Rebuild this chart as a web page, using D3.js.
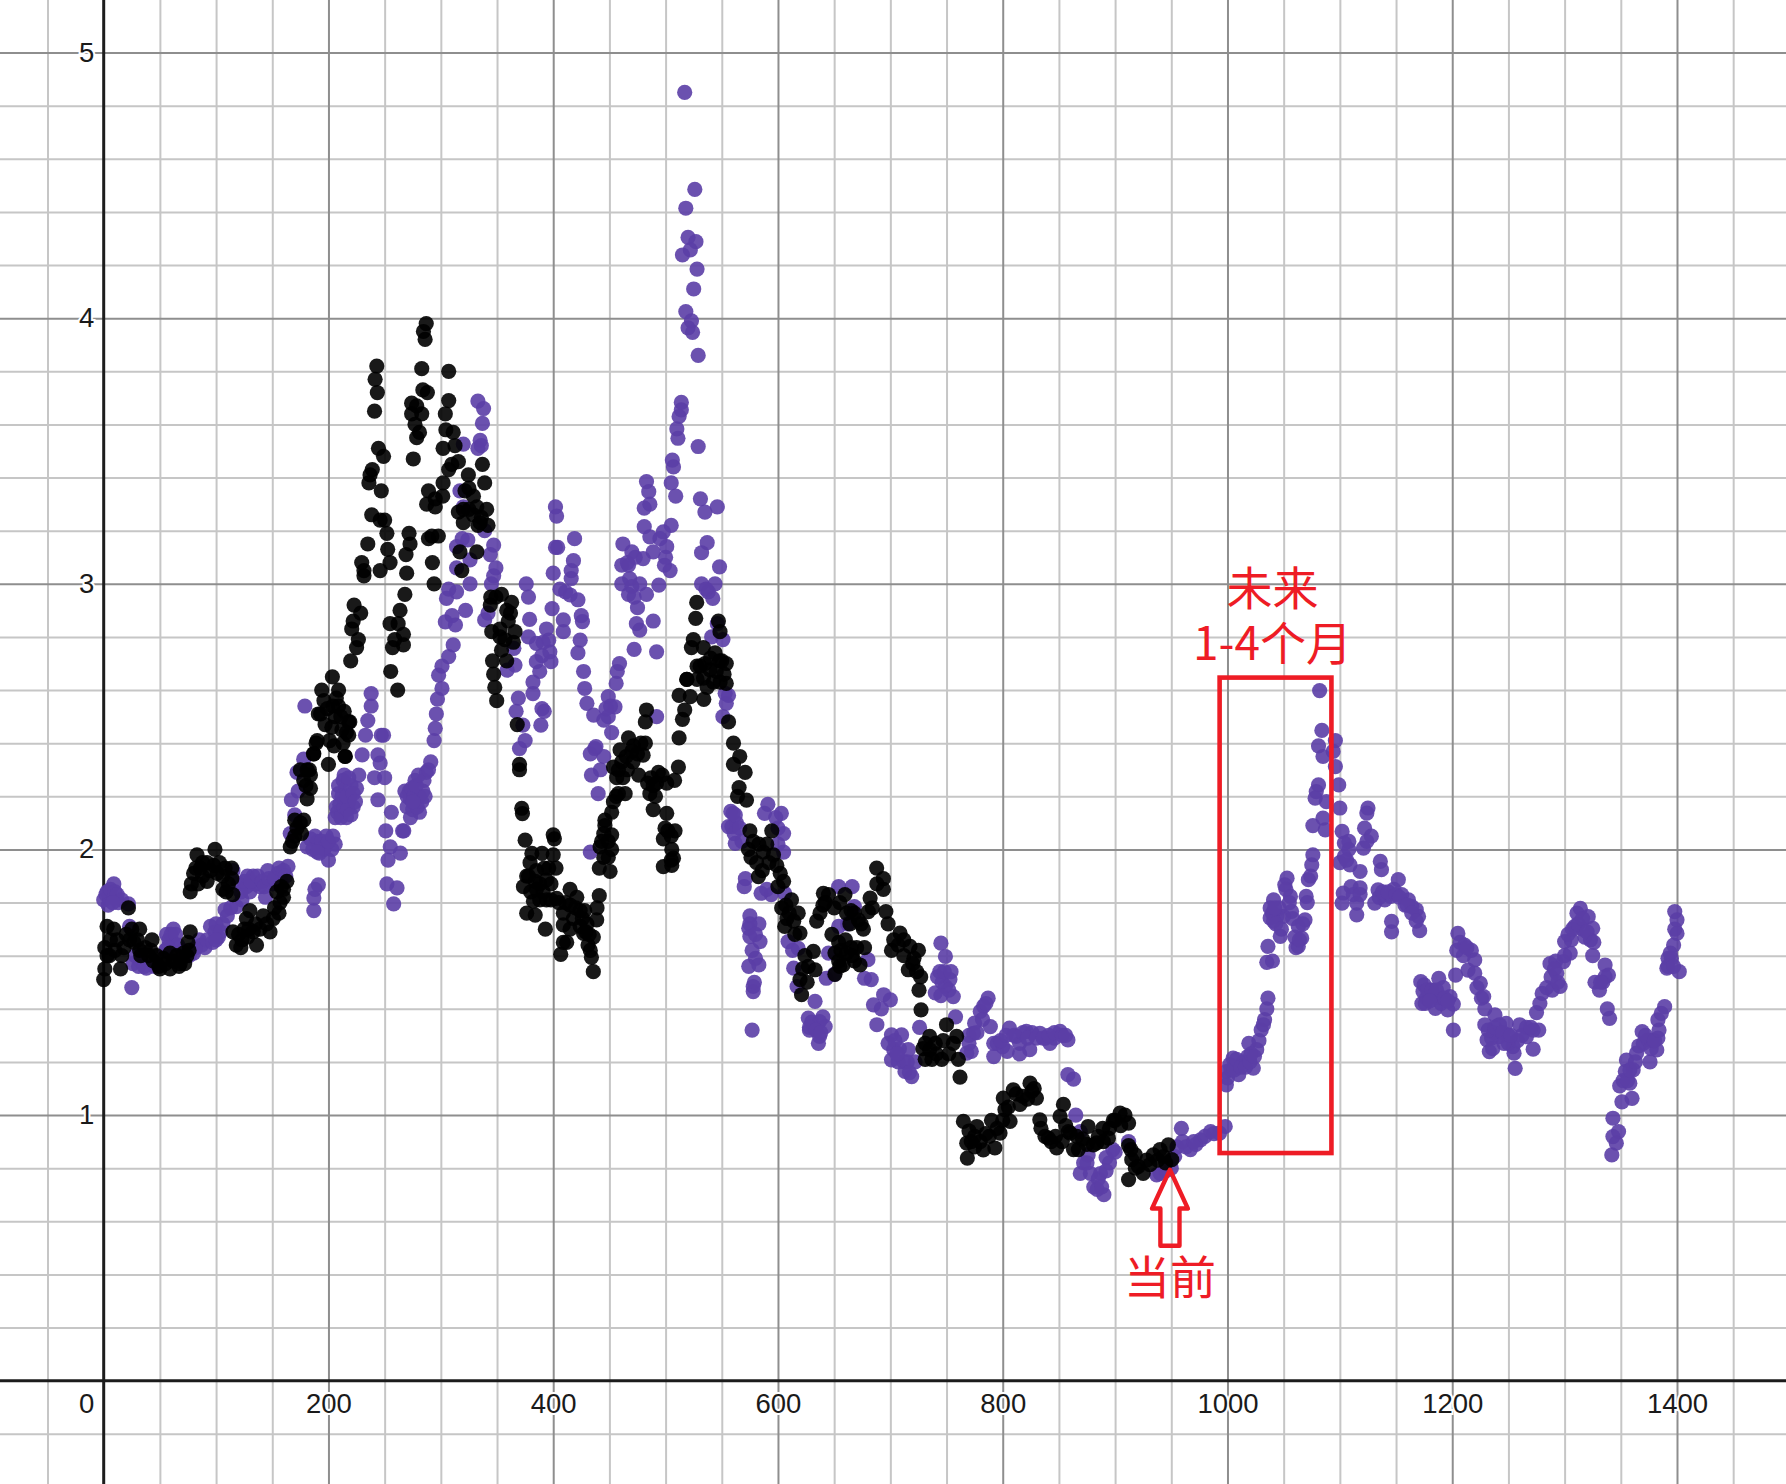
<!DOCTYPE html>
<html>
<head>
<meta charset="utf-8">
<script src="https://cdn.jsdelivr.net/npm/d3@7"></script>
<style>
  html, body { margin: 0; padding: 0; background: #fff; }
  svg { display: block; }
  .tick-label { font-family: "Liberation Sans", Arial, sans-serif; font-size: 27.5px; fill: #1a1a1a; }
  .note { font-family: "Noto Sans CJK SC", sans-serif; font-size: 46px; fill: #ee1c25; text-anchor: middle; }
</style>
</head>
<body>
<svg id="chart" width="1786" height="1484"></svg>
<script>
// ── values ───────────────────────────────────────────────────────────────────
const xLabels = [200, 400, 600, 800, 1000, 1200, 1400];
const yLabels = [1, 2, 3, 4, 5];

// [x, y] pairs, purple series
const purpleStart = [[9,1.87],[0,1.81],[6,1.82],[13,1.80],[22,1.795],[3,1.84],[25,1.48],[23,1.71],[26,1.57],[38,1.553],[31,1.56],[45,1.56],
  [62,1.70],[58,1.66],[62,1.647],[55,1.62],[80,1.61],[90,1.63],[95,1.71],[102,1.67],[106,1.72],[99,1.69],[70,1.62],[85,1.66],
  [108,1.773],[118,1.785],[115,1.92],[127,1.86],[133,1.90],[139,1.86],[146,1.92],[144,1.82],[155,1.91],[164,1.936],[123,1.81],[130,1.84],[120,1.87],[150,1.87],[158,1.88],[135,1.87],
  [2,1.83],[6,1.85],[10,1.84],[12,1.83],[16,1.81],[4,1.79],[8,1.8],[28,1.6],[33,1.58],[36,1.56],
  [56,1.68],[60,1.68],[64,1.68],[66,1.64],[57,1.63],[76,1.6],[82,1.63],[87,1.64],[92,1.66],[97,1.65],[100,1.72],[104,1.69],[100,1.66],
  [110,1.75],[113,1.78],[122,1.84],[125,1.88],[128,1.9],[131,1.88],[137,1.9],[141,1.88],[143,1.86],[147,1.89],[152,1.89],[156,1.93],[160,1.92],[162,1.9]];
const purpleRise = [[181,2.01],[198,2.05],[206,2.02],[200,1.96],[192,1.986],[184,2.04],[190,2.03],[203,2.0],[196,2.0],[191,1.867],[187,1.817],[187,1.77],[188,1.85],
  [186,2.0],[188,2.05],[194,2.03],[197,2.01],[200,2.03],[204,2.05],[190,1.99],
  [166,2.06],[170,2.13],[167,2.187],[173,2.22],[172,2.29],[178,2.34],[179,2.54],
  [206,2.12],[216,2.12],[210,2.17],[222,2.16],[213,2.26],[227,2.28],[225,2.23],[209,2.21],[219,2.2],[212,2.14],[218,2.18],[207,2.16],[215,2.23],
  [208,2.14],[211,2.12],[214,2.16],[217,2.15],[220,2.13],[209,2.24],[212,2.2],[216,2.2],[220,2.24],[222,2.21],[214,2.28],[218,2.27],[224,2.18],
  [233,2.43],[247,2.43],[249,2.43],[230,2.356],[244,2.356],[246,2.325],[241,2.27],[250,2.27],[244,2.187],[256,2.14],[251,2.07],[255,2.01],[264,1.986],[253,1.96],[252,1.87],[261,1.855],[258,1.795],[267,2.07],
  [238,2.587],[238,2.54],[235,2.485],
  [287,2.29],[277,2.26],[268,2.22],[281,2.2],[270,2.16],[281,2.14],[273,2.12],[284,2.22],[273,2.19],[278,2.19],[275,2.15],[266,2.07],[272,2.22],[285,2.26],
  [270,2.2],[274,2.23],[276,2.2],[278,2.24],[279,2.16],[283,2.18],[286,2.2],[275,2.18],[280,2.28],[289,2.3],
  [291,2.33],[294,2.41],[295,2.456],[296,2.51],[297,2.566],[301,2.606],[298,2.656],[301,2.69],[307,2.726],[311,2.77]];
const purplePeak = [[333,3.688],[338,3.66],[337,3.604],[335,3.54],[333,3.51],[320,3.526],[336,3.52],[317,3.35],[320,3.29],[319,3.17],[324,3.165],[314,3.14],[314,3.06],[326,3.09],[326,3.0],[339,3.2],
  [307,2.98],[314,2.97],[305,2.945],[322,2.9],[310,2.88],[304,2.857],[313,2.845],
  [347,3.146],[344,3.11],[349,3.06],[347,3.03],[345,3.0],[342,2.89],[339,2.864],[365,2.757],[366,2.694],[359,2.675],
  [376,3.0],[378,2.95],[379,2.866],[378,2.8],[385,2.776],[402,3.29],[403,3.255],[402,3.137],[404,3.137],[419,3.17],
  [400,3.04],[399,2.907],[409,2.864],[409,2.82],[418,3.087],[416,3.05],[416,3.02],[406,2.98],[415,2.958],[422,2.94],[425,2.88],[426,2.858],[411,2.97],
  [394,2.83],[396,2.788],[397,2.744],[398,2.707],[385,2.707],[388,2.67],[382,2.63],[382,2.587],[390,2.73],[391,2.78],
  [424,2.788],[422,2.74],[427,2.67],[369,2.57],[367,2.52],[373,2.468],[375,2.41],[370,2.38],[390,2.53],[389,2.468],[392,2.52],
  [428,2.606],[430,2.55],[436,2.506],[449,2.575],[455,2.537],[449,2.5],[445,2.487],[452,2.44],[459,2.70],[457,2.67],[456,2.625],[451,2.54],[447,2.53],
  [437,2.38],[445,2.35],[434,2.28],[440,2.21],[433,2.36],[442,2.3],[438,2.387],[433,1.99],
  [472,2.753],[492,2.744],[489,2.86],[474,2.85],[477,2.826],[475,2.91],[461,3.0],[467,2.96],[470,2.99],[477,3.0],[483,2.96],[472,2.95],[468,3.02],
  [462,3.15],[461,3.07],[467,3.07],[470,3.12],[480,3.095],[481,3.215],[486,3.177],[489,3.12],[483,3.385],[485,3.347],[486,3.3],[481,3.285],[466,3.08],[473,3.1],
  [505,3.22],[498,3.196],[495,3.17],[501,3.14],[499,3.07],[504,3.05],[494,2.995],[500,3.1],[506,3.466],[507,3.44],[505,3.38],[509,3.33],
  [514,3.683],[514,3.655],[512,3.63],[510,3.583],[511,3.548],[529,3.517],[531,3.32],[535,3.27],[546,3.29],[537,3.155],[532,3.117],[548,3.064],
  [517,4.85],[526,4.485],[518,4.414],[520,4.304],[527,4.288],[522,4.257],[515,4.238],[528,4.185],[525,4.11],[518,4.025],[523,3.99],[520,3.964],[524,3.947],[529,3.86],
  [532,3.0],[544,3.0],[538,2.97],[542,2.945],[536,2.98],[541,2.80],[551,2.79],[553,2.588],[554,2.55],[551,2.5],[546,2.85],[492,2.5],[556,2.58]];
const purpleFall = [[560,2.136],[563,2.1],[556,2.086],[562,2.023],[558,2.143],[559,2.086],[561,2.06],[591,2.17],[603,2.136],[588,2.136],[605,2.06],[605,1.99],[600,2.02],
  [562,2.13],[566,2.08],[568,2.03],[598,2.12],[600,2.08],
  [571,1.89],[570,1.86],[585,1.835],[594,1.83],[606,1.835],[590,1.85],[575,1.75],[583,1.72],[574,1.703],[575,1.672],[584,1.653],[609,1.653],[580,1.59],[574,1.56],[583,1.565],[578,1.484],[578,1.465],[577,1.32],
  [575,1.72],[577,1.62],[580,1.68],[579,1.5],
  [614,1.553],[618,1.628],[617,1.484],[633,1.428],[613,1.62],[627,1.365],[637,1.352],[642,1.333],[628,1.32],[637,1.296],[636,1.27],[632,1.33],[630,1.35],[628,1.33],[634,1.32],[640,1.37],[638,1.31],
  [654,1.86],[666,1.86],[668,1.785],[654,1.71],[645,1.61],[643,1.515],[680,1.585],[677,1.515],[683,1.51],[662,1.72],[650,1.53],
  [694,1.453],[685,1.415],[700,1.434],[688,1.34],[692,1.4],[701,1.302],[701,1.208],[710,1.302],[703,1.246],[713,1.164],[719,1.145],[716,1.246],[726,1.33],[708,1.25],[712,1.2],[722,1.2],
  [704,1.28],[707,1.2],[698,1.27],[715,1.2],[717,1.16],[706,1.23],
  [745,1.647],[749,1.597],[744,1.54],[753,1.51],[740,1.46],[756,1.446],[749,1.484],[746,1.5],[758,1.37],[768,1.233],[774,1.308],[787,1.44],[780,1.39],[789,1.333],[783,1.41],[775,1.346],[770,1.27],
  [742,1.52],[748,1.54],[752,1.47],[745,1.45],[754,1.54],[770,1.3],[772,1.24],[777,1.31],[782,1.36],[785,1.42],
  [792,1.22],[795,1.27],[806,1.327],[800,1.258],[821,1.315],[824,1.246],[833,1.308],[842,1.27],[851,1.315],[858,1.283],[812,1.296],[846,1.29],[815,1.27],[804,1.24],[838,1.29],[826,1.31],
  [792,1.27],[798,1.28],[803,1.3],[810,1.3],[818,1.31],[822,1.29],[830,1.29],[836,1.29],[841,1.3],[846,1.31],[853,1.3],[856,1.3],[815,1.23],
  [858,1.152],[863,1.135],[865,1.0],[869,0.938],[872,0.82],[869,0.78],[881,0.73],[890,0.70],[887,0.78],[895,0.82],[898,0.87],[912,0.9],[875,0.82],[885,0.76],[892,0.84],
  [876,0.85],[878,0.78],[884,0.72],[888,0.73],[892,0.79],[900,0.86]];
const purpleFuture = [[937,0.775],[959,0.95],[953,0.844],[967,0.87],[976,0.907],[985,0.938],[993,0.932],[998,0.957],[945,0.79],
  [955,0.88],[960,0.9],[963,0.88],[970,0.9],[972,0.89],[980,0.92],[988,0.93],[940,0.78],[950,0.8],
  [999,1.114],[999,1.164],[1005,1.214],[1010,1.152],[1019,1.27],[1023,1.177],[1026,1.246],[1030,1.321],[1033,1.359],[1035,1.40],[1036,1.44],[1014,1.2],[1002,1.19],[1018,1.22],
  [1000,1.14],[1003,1.17],[1006,1.17],[1008,1.21],[1012,1.18],[1016,1.18],[1020,1.2],[1021,1.23],[1024,1.22],[1028,1.28],[1032,1.34],
  [1082,2.598],[1084,2.448],[1096,2.41],[1081,2.39],[1094,2.369],[1085,2.35],[1096,2.312],[1081,2.243],[1099,2.243],[1079,2.218],[1078,2.193],[1088,2.18],[1100,2.156],[1085,2.118],[1076,2.09],[1087,2.074],[1102,2.068],
  [1104,2.024],[1125,2.156],[1124,2.137],[1122,2.08],[1128,2.05],[1121,2.005],[1104,1.974],[1100,1.95],[1109,1.942],[1118,1.917],[1136,1.955],[1137,1.924],[1108,2.0],[1124,2.03],[1106,1.96],[1108,2.03],
  [1110,1.86],[1103,1.836],[1118,1.855],[1102,1.798],[1115,1.798],[1115,1.754],[1131,1.798],[1134,1.848],[1152,1.886],[1145,1.823],[1161,1.81],[1168,1.773],[1170,1.748],[1146,1.729],[1146,1.69],[1171,1.694],[1155,1.83],[1140,1.81],[1148,1.85],[1164,1.785],[1158,1.79],
  [1112,1.83],[1118,1.83],[1135,1.82],[1138,1.84],[1143,1.84],[1150,1.83],[1153,1.82],[1160,1.79],[1164,1.76],[1168,1.73],
  [1076,1.98],[1075,1.942],[1072,1.886],[1070,1.823],[1053,1.892],[1051,1.867],[1056,1.823],[1041,1.81],[1038,1.78],[1038,1.742],[1050,1.748],[1057,1.767],[1047,1.673],[1069,1.735],[1063,1.71],[1066,1.666],[1063,1.635],[1036,1.635],[1040,1.58],[1035,1.575],[1044,1.75],[1061,1.63],
  [1040,1.76],[1041,1.73],[1043,1.72],[1046,1.78],[1052,1.85],[1055,1.8],[1058,1.74],[1042,1.78],[1048,1.7],[1060,1.67],[1064,1.66],[1067,1.72],[1071,1.8],[1074,1.9],
  [1205,1.684],[1211,1.64],[1217,1.62],[1204,1.62],[1210,1.6],[1220,1.584],[1220,1.534],[1214,1.546],[1225,1.496],[1228,1.446],[1229,1.4],[1207,1.65],[1213,1.63],[1222,1.48],[1226,1.44],
  [1172,1.502],[1188,1.515],[1174,1.465],[1183,1.446],[1173,1.42],[1185,1.402],[1198,1.446],[1201,1.418],[1196,1.396],[1203,1.527],[1201,1.32],[1180,1.47],[1190,1.44],[1177,1.44],[1192,1.48],
  [1175,1.49],[1178,1.47],[1182,1.47],[1186,1.47],[1190,1.42],[1193,1.44],[1196,1.43],[1176,1.42],[1180,1.43],
  [1238,1.377],[1248,1.345],[1229,1.34],[1231,1.283],[1233,1.239],[1242,1.295],[1254,1.258],[1255,1.233],[1256,1.176],[1260,1.34],[1272,1.32],[1277,1.32],[1272,1.248],[1266,1.295],[1275,1.386],[1280,1.458],[1289,1.47],[1237,1.31],[1250,1.3],[1235,1.29],
  [1232,1.32],[1238,1.33],[1242,1.34],[1245,1.31],[1250,1.27],[1258,1.28],[1262,1.3],[1266,1.33],[1270,1.33],[1246,1.27],[1252,1.3],[1236,1.25],[1278,1.42],[1284,1.48],
  [1287,1.57],[1293,1.534],[1296,1.484],[1299,1.578],[1300,1.653],[1305,1.61],[1309,1.71],[1311,1.76],[1314,1.778],[1321,1.747],[1323,1.66],[1325,1.703],[1325,1.6],[1316,1.7],[1306,1.66],[1292,1.58],
  [1288,1.52],[1291,1.55],[1294,1.5],[1300,1.6],[1303,1.68],[1307,1.7],[1312,1.72],[1316,1.74],[1318,1.67],[1320,1.69],[1326,1.65],
  [1336,1.565],[1339,1.527],[1327,1.5],[1331,1.47],[1338,1.4],[1340,1.364],[1343,0.988],[1348,0.938],[1343,0.919],[1346,0.894],[1342,0.85],[1334,1.5],[1336,1.52],[1332,1.5],
  [1351,1.05],[1360,1.063],[1349,1.11],[1358,1.12],[1354,1.164],[1361,1.17],[1355,1.207],[1364,1.233],[1369,1.314],[1374,1.283],[1376,1.2],[1382,1.245],[1383,1.29],[1383,1.358],[1386,1.383],[1389,1.408],[1378,1.28],[1370,1.27],
  [1352,1.13],[1356,1.13],[1358,1.17],[1363,1.2],[1366,1.26],[1372,1.3],[1377,1.25],[1380,1.28],[1384,1.32],
  [1398,1.766],[1400,1.735],[1400,1.684],[1397,1.64],[1392,1.59],[1391,1.553],[1402,1.54],[1395,1.59],[1394,1.61],[1392,1.56],[1397,1.56],[1398,1.7]];

// [x, y] pairs, black series
const blackStart = [[0,1.51],[1,1.55],[3,1.60],[1,1.63],[3,1.71],[9,1.70],[6,1.66],[15,1.55],[16,1.60],[18,1.63],[25,1.70],[32,1.70],[23,1.66],[32,1.62],[43,1.66],[40,1.60],[49,1.56],[55,1.57],[59,1.61],[68,1.57],[71,1.61],[75,1.65],[77,1.69],[22,1.78],[33,1.60],[44,1.58],[50,1.55],[59,1.55],[67,1.56],[72,1.57],
  [10,1.62],[12,1.66],[5,1.6],[20,1.68],[27,1.65],[30,1.66],[37,1.63],[42,1.62],[47,1.6],[53,1.59],[62,1.58],[65,1.6],[74,1.6],[76,1.62],
  [83,1.98],[99,2.00],[92,1.95],[80,1.91],[78,1.87],[77,1.84],[92,1.88],[101,1.91],[106,1.90],[114,1.93],[114,1.89],[109,1.84],[115,1.83],[86,1.93],[98,1.94],[106,1.85],
  [82,1.93],[88,1.9],[95,1.92],[103,1.95],[108,1.93],[111,1.87],[84,1.87],[88,1.95],
  [115,1.69],[118,1.64],[129,1.70],[136,1.64],[130,1.77],[127,1.74],[142,1.75],[148,1.69],[151,1.74],[157,1.80],[154,1.84],[163,1.88],[160,1.82],[123,1.66],[139,1.70],[160,1.85],
  [120,1.68],[125,1.7],[128,1.67],[133,1.69],[135,1.72],[145,1.72],[152,1.78],[156,1.76],[158,1.86],[122,1.63],
  [166,2.01],[170,2.05],[178,2.11],[170,2.11],[181,2.19],[184,2.23],[181,2.30],[187,2.36],[190,2.41],[200,2.32],[201,2.41],[203,2.46],[215,2.35],[213,2.40],[218,2.48],[193,2.51],[204,2.54],[175,2.30],[178,2.26],[207,2.57],[191,2.51],[209,2.54],[194,2.60],[203.5,2.65],[219,2.48],[216,2.44],[189,2.40],[186.6,2.36],[214.7,2.35],
  [168,2.03],[172,2.08],[175,2.1],[176,2.06],[180,2.24],[183,2.3],[184,2.28],[197,2.47],[199,2.53],[206,2.5],[211,2.5],[214,2.52],[212,2.45],[205,2.39],[196,2.56],[209,2.6],[218,2.43]];
const blackPeak = [[287,3.98],[284.5,3.95],[286,3.92],[243,3.82],[241.5,3.77],[243.5,3.72],[241,3.65],[283,3.81],[307,3.80],[284,3.73],[288,3.72],[274,3.68],[278.5,3.67],[274,3.64],[283,3.64],[277,3.60],[281,3.57],[278.5,3.55],[275.5,3.47],[307,3.69],[304,3.64],[304.5,3.58],[311,3.57],[302,3.51],[312.6,3.52],[244.5,3.51],[249,3.48],[239,3.43],[237,3.41],[236,3.38],[247,3.35],[238.5,3.26],[246,3.24],[250,3.24],[252,3.19],[235,3.15],[252.7,3.13],[229.6,3.08],[231.6,3.03],[231.6,3.05],[246,3.05],[254.8,3.08],[269.6,3.04],[269,3.11],[272.6,3.15],[271.7,3.19],[268,2.96],[263.7,2.90],[222.8,2.92],[228.7,2.89],[222,2.86],[220.7,2.83],[226.6,2.79],[225,2.76],[219.8,2.71],[254.8,2.85],[262,2.85],[259,2.79],[266.7,2.81],[257,2.76],[266.7,2.77],[255.4,2.67],[261.6,2.60],
  [297.8,3.18],[292,3.18],[289,3.17],[292.5,3.08],[294,3.0],[289,3.35],[302,3.38],[295,3.32],[287.4,3.30],[295,3.29],[301.7,3.33],[307,3.43],[315.6,3.46],[309.7,3.45],[337,3.45],[324.5,3.41],[339,3.38],[321.5,3.35],[329,3.33],[320,3.28],[332,3.29],[340.8,3.28],[315.6,3.27],[335,3.23],[342,3.22],[320,3.23],[317,3.12],[332,3.12],[318.6,3.05],[329,3.26],[336,3.25],[325,3.28],[325,3.36],[333,3.22],
  [344.4,2.95],[354,2.96],[363,2.93],[344,2.92],[358.6,2.90],[360,2.86],[352.7,2.83],[366,2.82],[345.3,2.82],[364.6,2.78],[352.7,2.80],[354,2.75],[358.6,2.71],[346,2.71],[347,2.66],[348,2.61],[349.7,2.56],[368,2.47],[370,2.32],[370,2.30],[349,2.95],[362,2.89],[357,2.79]];
const blackTrough = [[372,2.155],[372.6,2.135],[375,2.035],[400,2.055],[401,2.04],[381,1.985],[390,1.985],[400,1.98],[379.4,1.95],[402.5,1.93],[376.4,1.90],[373.5,1.86],[394,1.885],[388,1.87],[382.4,1.805],[394,1.81],[403,1.816],[376.4,1.76],[384,1.753],[393,1.70],[415,1.85],[421,1.82],[441,1.826],[439,1.78],[438.7,1.735],[409,1.76],[424,1.77],[409,1.716],[424,1.71],[409,1.65],[412,1.65],[406.7,1.605],[435.7,1.67],[431,1.64],[434,1.594],[435.7,1.54],[427,1.684],[385,1.92],[380,1.84],[392,1.93],[388,1.81],[415,1.79],[418,1.74],[430,1.72],[398,1.81],[405,1.8],
  [378,1.9],[384,1.88],[396,1.93],[391,1.84],[385,1.85],[398,1.87],[411,1.8],[420,1.78],[426,1.74],[429,1.69],[432,1.68],[433,1.62],[428,1.77],[415,1.7],
  [446,2.11],[446,2.09],[452,2.14],[443,2.03],[452,2.055],[441.7,2.01],[452,2.0],[449,1.97],[441,1.93],[450.6,1.917],[453.6,2.18],[464,2.21],[458,2.21],[456.5,2.27],[453.6,2.31],[459.5,2.375],[467,2.42],[471.4,2.39],[482,2.40],[480,2.355],[471,2.33],[461,2.33],[476,2.28],[493.6,2.29],[489,2.24],[486,2.21],[501,2.25],[511.4,2.31],[508,2.26],[489,2.15],[501,2.136],[499.5,2.08],[508.4,2.07],[498,2.04],[505.5,2.0],[507,1.967],[498,1.935],[505.5,1.94],[483,2.525],[482,2.48],[512,2.42],[515,2.49],[519,2.64],[512,2.58],[522,2.575],[517,2.525],[534,2.565],
  [445,2.06],[449,2.03],[445,1.97],[456,2.2],[458,2.3],[462,2.27],[465,2.35],[470,2.37],[475,2.36],[478,2.4],[466,2.3],[484,2.25],[491,2.2],[492,2.25],[497,2.28],[487,2.27],[505,2.05],[502,2.07],[505,1.96],
  [527.7,2.93],[526.8,2.87],[547,2.86],[548.4,2.82],[524.7,2.79],[523,2.76],[533.6,2.76],[530.7,2.69],[550,2.71],[554,2.70],[542.5,2.63],[554,2.625],[518.8,2.64],[528,2.69],[548,2.71],[539.6,2.676],[533.7,2.645],[548.5,2.63],[540,2.72],[535,2.7],[545,2.67],[528,2.64],[552,2.66],[537,2.61],[544,2.74]];
const blackFall = [[556,2.48],[560.4,2.40],[566,2.35],[560.4,2.32],[570.8,2.29],[565.4,2.233],[572,2.186],[564,2.2],[575,2.07],[594.5,2.07],[573.7,2.0],[587,1.99],[581,1.95],[599,1.94],[582.6,1.898],[602,1.91],[605,1.88],[590,2.02],[578,2.03],[583,2.02],[592,1.95],[586,1.92],[596,1.98],[576,1.97],
  [603.3,1.78],[612,1.81],[606,1.71],[618,1.76],[619.6,1.685],[631.5,1.616],[633,1.547],[619.6,1.51],[621,1.453],[627,1.56],[608,1.74],[614,1.73],[624,1.6],[600,1.86],[607,1.79],[610,1.76],[615,1.68],[622,1.55],[626,1.5],
  [640.4,1.835],[645,1.83],[637.4,1.76],[634.4,1.73],[659.6,1.83],[661,1.76],[671.5,1.735],[676,1.70],[680.4,1.766],[682,1.817],[687.8,1.93],[693.8,1.89],[693.8,1.85],[642,1.8],[665,1.77],
  [640,1.79],[650,1.78],[655,1.8],[664,1.72],[668,1.76],[674,1.72],[688,1.87],[684,1.78],
  [648,1.68],[650.7,1.61],[650.7,1.53],[661,1.61],[670,1.63],[673,1.565],[658,1.565],[656,1.62],[666,1.6],[677,1.63],[655,1.56],[654,1.65],[660,1.66],[665,1.63],[654,1.58],[668,1.58],
  [696,1.766],[698,1.72],[708.6,1.685],[701,1.62],[717.5,1.635],[725,1.62],[716,1.547],[723.4,1.54],[725.5,1.47],[727.3,1.396],[707,1.64],[712,1.6],[720,1.57],[703,1.66],[712,1.66],[721,1.59],[727,1.52],
  [735,1.296],[750,1.34],[759,1.296],[731,1.21],[745.7,1.21],[760.5,1.21],[762,1.143],[735,1.246],[741,1.23],[756,1.27],[740,1.27],[752,1.23],[729,1.25],[747,1.28],[737,1.21],[731,1.27],
  [765,0.976],[777,0.957],[768,0.894],[768.5,0.838],[790,0.98],[782.7,0.869],[793,0.876],[806.5,0.976],[797.6,0.932],[800.5,1.064],[809.4,1.095],[815.4,1.04],[824.3,1.12],[830,1.064],[775,0.92],[785,0.93],[772,0.9],[802,1.02],
  [770,0.94],[775,0.88],[780,0.9],[788,0.92],[795,0.95],[800,0.98],[805,1.03],[812,1.08],[818,1.07],[822,1.06],[826,1.09],[828,1.1],
  [833,0.982],[837.6,0.92],[848,0.876],[854,1.04],[851,0.995],[860,0.932],[867.3,0.87],[876,0.957],[880.6,0.888],[889.5,0.90],[898.4,0.98],[904.4,1.007],[840.6,0.913],[858.4,0.938],[863,0.87],[883.6,0.895],[894,0.913],[900,0.98],[908.8,1.0],[912,0.97],
  [834,0.95],[843,0.9],[847,0.92],[853,0.9],[856,0.96],[866,0.92],[871,0.91],[875,0.89],[885,0.92],[889,0.95],[895,0.95],[905,0.96],
  [912,0.885],[914.8,0.832],[912,0.757],[925,0.78],[920.7,0.807],[934,0.85],[931,0.813],[947.4,0.888],[950.4,0.832],[943,0.844],[918,0.8],[938,0.83],[914,0.87],[918,0.85],[928,0.83],[940,0.87],[945,0.82]];

const purpleSeries = [...purpleStart, ...purpleRise, ...purplePeak, ...purpleFall, ...purpleFuture];
const blackSeries = [...blackStart, ...blackPeak, ...blackTrough, ...blackFall];

// annotation anchors in chart units
const futureBox = { x0: 993, x1: 1092.5, y0: 2.647, y1: 0.857 };
const nowArrow = { x: 948.8, headHalf: 16, shaftHalf: 8.5, tip: 0.794, base: 0.648, tail: 0.508 };

// ── drawing ──────────────────────────────────────────────────────────────────
const W = 1786, H = 1484;
const svg = d3.select('#chart');

const x = d3.scaleLinear().domain([-92.28, 1497]).range([0, W]);
const y = d3.scaleLinear().domain([5.198, -0.389]).range([0, H]);

function gridLayer(axis, className, colour) {
    const g = svg.append('g').attr('class', className).call(axis);
    g.select('.domain').remove();
    g.selectAll('text').remove();
    g.selectAll('line').attr('stroke', colour).attr('stroke-width', 2);
    return g;
}

// minor grid first, major on top
const xMinor = d3.range(-50, 1500, 50).filter(d => d % 200 !== 0);
const yMinor = d3.range(-1, 26).filter(d => d % 5 !== 0).map(d => d / 5);
gridLayer(d3.axisBottom(x).tickValues(xMinor).tickSize(H), 'grid-x-minor', '#c6c6c6');
gridLayer(d3.axisRight(y).tickValues(yMinor).tickSize(W), 'grid-y-minor', '#c6c6c6');
gridLayer(d3.axisBottom(x).tickValues(xLabels).tickSize(H), 'grid-x-major', '#8e8e8e');
gridLayer(d3.axisRight(y).tickValues(yLabels).tickSize(W), 'grid-y-major', '#8e8e8e');

// axes lines
svg.append('line').attr('x1', 0).attr('x2', W).attr('y1', y(0)).attr('y2', y(0))
    .attr('stroke', '#1c1c1c').attr('stroke-width', 3);
svg.append('line').attr('x1', x(0)).attr('x2', x(0)).attr('y1', 0).attr('y2', H)
    .attr('stroke', '#1c1c1c').attr('stroke-width', 3);

// tick labels with the white halo
const labelBottom = d3.axisBottom(x).tickValues(xLabels).tickSize(0).tickPadding(0).tickFormat(d3.format('d'));
const gx = svg.append('g').attr('transform', `translate(0,${y(0)})`).call(labelBottom);
gx.select('.domain').remove();
gx.selectAll('text').attr('class', 'tick-label').attr('dy', null).attr('y', 32);

const labelLeft = d3.axisLeft(y).tickValues(yLabels).tickSize(0).tickPadding(0).tickFormat(d3.format('d'));
const gy = svg.append('g').attr('transform', `translate(${x(0) - 9.5},0)`).call(labelLeft);
gy.select('.domain').remove();
gy.selectAll('text').attr('class', 'tick-label').attr('dy', null).attr('y', 8.5);

svg.append('text').attr('class', 'tick-label').attr('text-anchor', 'end')
    .attr('x', x(0) - 9.5).attr('y', y(0) + 32).text('0');

svg.selectAll('.tick-label')
    .attr('stroke', '#fff').attr('stroke-width', 4).attr('paint-order', 'stroke');

// points: purple below, black above
svg.append('g').selectAll('circle').data(purpleSeries).join('circle')
    .attr('cx', d => x(d[0])).attr('cy', d => y(d[1])).attr('r', 7.6)
    .attr('fill', '#5b3ea6').attr('fill-opacity', 0.9);
svg.append('g').selectAll('circle').data(blackSeries).join('circle')
    .attr('cx', d => x(d[0])).attr('cy', d => y(d[1])).attr('r', 7.6)
    .attr('fill', '#000').attr('fill-opacity', 0.9);

// red notes
svg.append('rect')
    .attr('x', x(futureBox.x0)).attr('y', y(futureBox.y0))
    .attr('width', x(futureBox.x1) - x(futureBox.x0)).attr('height', y(futureBox.y1) - y(futureBox.y0))
    .attr('fill', 'none').attr('stroke', '#ee1c25').attr('stroke-width', 4.6);

const a = nowArrow;
const arrowLine = d3.line()([
    [x(a.x), y(a.tip)],
    [x(a.x + a.headHalf), y(a.base)],
    [x(a.x + a.shaftHalf), y(a.base)],
    [x(a.x + a.shaftHalf), y(a.tail)],
    [x(a.x - a.shaftHalf), y(a.tail)],
    [x(a.x - a.shaftHalf), y(a.base)],
    [x(a.x - a.headHalf), y(a.base)]
]) + 'Z';
svg.append('path').attr('d', arrowLine)
    .attr('fill', 'none').attr('stroke', '#ee1c25').attr('stroke-width', 4.4).attr('stroke-linejoin', 'round');

// two lines in one text so they sit tight like the original
const futureNote = svg.append('text').attr('class', 'note');
futureNote.append('tspan').attr('x', x(1040)).attr('y', 605).text('未来');
futureNote.append('tspan').attr('x', x(1040)).attr('y', 660).text('1-4个月');
svg.append('text').attr('class', 'note').attr('x', x(a.x)).attr('y', 1294).text('当前');
</script>
</body>
</html>
